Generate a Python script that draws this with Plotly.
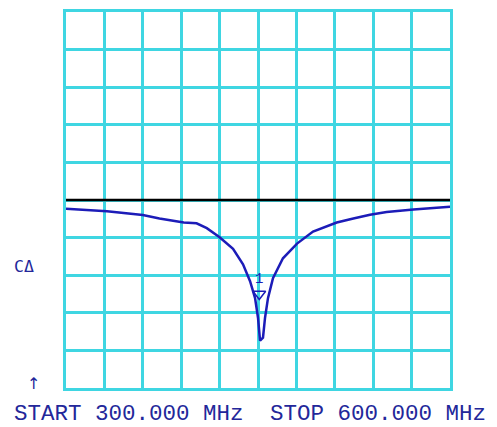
import plotly.graph_objects as go

# Trace data (frequency in MHz, response in divisions relative to reference)
freq_mhz = [300, 311, 332, 360, 373, 392, 402, 410, 420, 430.5, 438.3, 443.8,
            447.7, 450.0, 451.6, 453.9, 455.5, 457.8, 461.7, 469.5, 480.5,
            493, 506, 511.5, 524.5, 537.5, 550.5, 571.4, 600]
response_div = [-0.23, -0.25, -0.30, -0.40, -0.49, -0.60, -0.62, -0.75, -0.99,
                -1.30, -1.71, -2.16, -2.61, -3.13, -3.74, -3.66, -3.13, -2.61,
                -2.08, -1.55, -1.16, -0.84, -0.66, -0.60, -0.49, -0.39, -0.32,
                -0.25, -0.18]

ref_freq = [300, 600]
ref_level = [0, 0]

marker_freq = [451]
marker_level = [-2.5]
marker_label = ["1"]

start_label = "START 300.000 MHz"
stop_label = "STOP 600.000 MHz"

GRID = "#3fd6e2"
TRACE = "#1c1cb8"
TEXT = "#23279a"

# page body has an 8px default margin; compensate so the plot lands where intended
OFF = 8
W, H = 497 - OFF, 427 - OFF
L, R, T, B = 66 - OFF, 47, 1, 39
pw, ph = W - L - R, H - T - B

fig = go.Figure()
fig.add_trace(go.Scatter(x=ref_freq, y=ref_level, mode="lines",
                         line=dict(color="black", width=2.5), hoverinfo="skip"))
fig.add_trace(go.Scatter(x=[ref_freq[-1] + 6], y=[ref_level[-1]], mode="markers",
                         marker=dict(symbol="square-open", size=7, color="black",
                                     line=dict(width=2)),
                         cliponaxis=False, hoverinfo="skip"))
fig.add_trace(go.Scatter(x=freq_mhz, y=response_div, mode="lines",
                         line=dict(color=TRACE, width=2.5)))
fig.add_trace(go.Scatter(x=marker_freq, y=marker_level, mode="markers+text",
                         text=marker_label, textposition="top center",
                         textfont=dict(family="Liberation Mono", size=14, color=TRACE),
                         marker=dict(symbol="triangle-down-open", size=11, color=TRACE,
                                     line=dict(width=1.5))))


def ann(text, px, py, size, family, xanchor="left"):
    return dict(text=text, x=(px - OFF - L) / pw, y=(H + OFF - B - py) / ph,
                xref="paper", yref="paper", showarrow=False,
                xanchor=xanchor, yanchor="middle",
                font=dict(family=family, size=size, color=TEXT))


fig.update_layout(
    width=W, height=H,
    margin=dict(l=L, r=R, t=T, b=B),
    paper_bgcolor="white", plot_bgcolor="white",
    showlegend=False,
    xaxis=dict(range=[300, 600], dtick=30, tick0=300, showgrid=True,
               gridcolor=GRID, gridwidth=3, showline=True, mirror=True,
               linecolor=GRID, linewidth=3, zeroline=False,
               showticklabels=False, ticks=""),
    yaxis=dict(range=[-5, 5], dtick=1, tick0=-5, showgrid=True,
               gridcolor=GRID, gridwidth=3, showline=True, mirror=True,
               linecolor=GRID, linewidth=3, zeroline=False,
               showticklabels=False, ticks=""),
    annotations=[
        ann(start_label, 12, 414, 22.5, "Liberation Mono"),
        ann(stop_label, 268, 414, 22.5, "Liberation Mono"),
        ann("CΔ", 12, 266, 16.5, "DejaVu Sans Mono"),
        ann("↑", 33, 383, 16, "DejaVu Sans", xanchor="center"),
    ],
)

fig.write_html("out.html")
